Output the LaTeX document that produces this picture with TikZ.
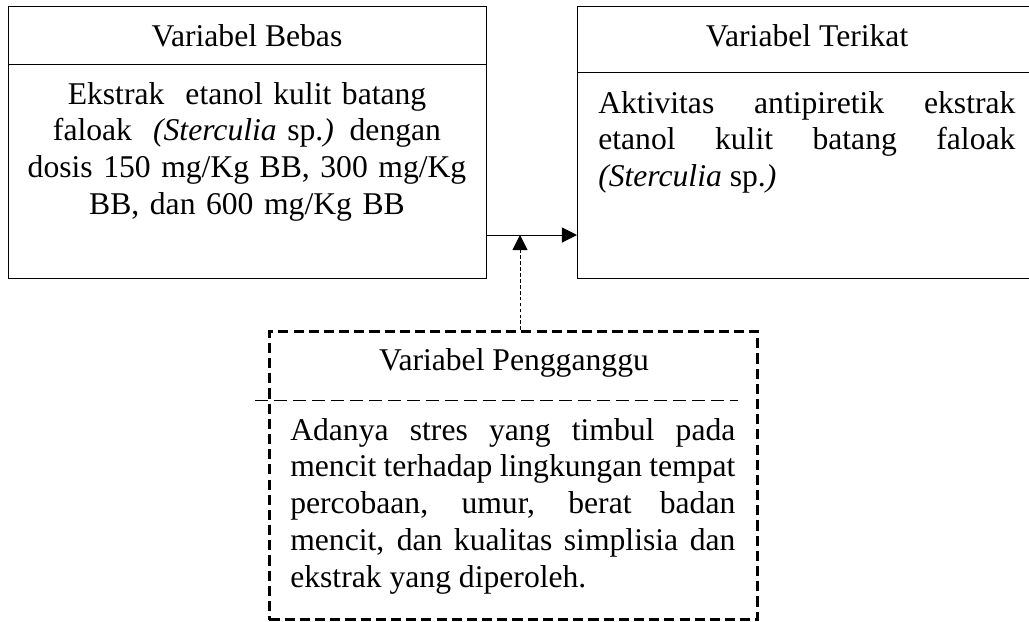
\documentclass[tikz,border=0pt]{standalone}
\usepackage{fontspec}
\setmainfont{Liberation Serif}
\usetikzlibrary{arrows.meta, positioning}

\tikzset{
  varbox/.style={draw, line width=0.7pt, rectangle, anchor=north west, inner sep=0pt},
  ganggubox/.style={draw, line width=2.1pt, dash pattern=on 7.2pt off 3.6pt, rectangle, anchor=north west, inner sep=0pt},
  txt/.style={inner sep=0pt, font=\fontsize{22.5}{26.3}\selectfont},
}

\begin{document}
\begin{tikzpicture}[x=0.025cm, y=-0.025cm]
\useasboundingbox (0,0) rectangle (1029,621);

% boxes
\node[varbox, minimum width=11.95cm, minimum height=6.8cm] (bebas) at (8,6) {};
\node[varbox, minimum width=11.4cm, minimum height=6.8cm] (terikat) at (577,6) {};
\node[ganggubox, minimum width=12.2cm, minimum height=7.2cm] (ganggu) at (268,330) {};

% dividers
\draw [line width=0.7pt] (bebas.west |- 0,64) -- (bebas.east |- 0,64);
\draw [line width=0.7pt] (terikat.west |- 0,72) -- (terikat.east |- 0,72);
\draw [line width=0.7pt, dash pattern=on 9.2pt off 4.3pt] (255,400) -- (738,400);

% texts
\node[txt, anchor=base] (bebasT) at (247,46) {Variabel Bebas};
\node[txt, anchor=base, align=center, text width=11cm] (bebasB) at (247,104)
  {Ekstrak\ \ etanol kulit batang\\
   faloak\ \ \textit{(Sterculia} sp.\textit{)} dengan\\
   dosis 150 mg/Kg BB, 300 mg/Kg\\
   BB, dan 600 mg/Kg BB};

\node[txt, anchor=base] (terikatT) at (807,46) {Variabel Terikat};
\node[txt, anchor=base west, align=justify, text width=10.425cm] (terikatB) at (598,113)
  {Aktivitas antipiretik ekstrak\linebreak
   etanol kulit batang faloak\linebreak
   \textit{(Sterculia} sp.\textit{)}};

\node[txt, anchor=base] (gangguT) at (514,370) {Variabel Pengganggu};
\node[txt, anchor=base west, align=justify, text width=11.125cm] (gangguB) at (290,440)
  {Adanya stres yang timbul pada\linebreak
   mencit terhadap lingkungan tempat\linebreak
   percobaan, umur, berat badan\linebreak
   mencit, dan kualitas simplisia dan\linebreak
   ekstrak yang diperoleh.};

% connectors
\coordinate (meet) at (520,235);
\draw [line width=0.7pt, -{Triangle[length=0.38cm, width=0.38cm]}] (bebas.east |- meet) -- (terikat.west |- meet);
\draw [line width=0.7pt, dash pattern=on 2.6pt off 1.6pt, -{Triangle[length=0.38cm, width=0.38cm]}] (ganggu.north -| meet) -- (meet);

\end{tikzpicture}
\end{document}
